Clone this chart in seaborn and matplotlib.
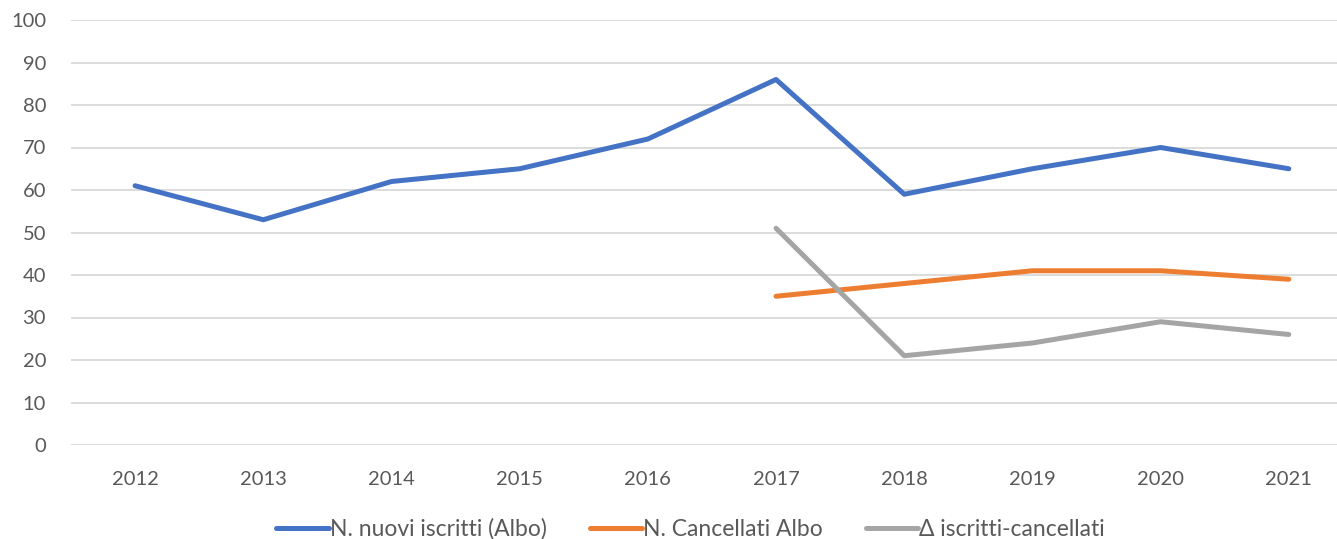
import pandas as pd
import numpy as np
import matplotlib.pyplot as plt
import seaborn as sns

years = ['2012', '2013', '2014', '2015', '2016', '2017', '2018', '2019', '2020', '2021']
nuovi = [61, 53, 62, 65, 72, 86, 59, 65, 70, 65]
cancellati = [np.nan, np.nan, np.nan, np.nan, np.nan, 35, 38, 41, 41, 39]
delta = [np.nan, np.nan, np.nan, np.nan, np.nan, 51, 21, 24, 29, 26]

labels = ['N. nuovi iscritti (Albo)', 'N. Cancellati Albo', 'Δ iscritti-cancellati']
colors = ['#4472C4', '#ED7D31', '#A5A5A5']

df = pd.DataFrame({'Anno': years, labels[0]: nuovi, labels[1]: cancellati, labels[2]: delta})
long = df.melt(id_vars='Anno', var_name='Serie', value_name='Valore').dropna()

sns.set_style('white')
plt.rcParams['font.family'] = ['Lato', 'DejaVu Sans']

fig = plt.figure(figsize=(13.37, 5.39), dpi=100)
ax = fig.add_axes([71 / 1337, (539 - 445) / 539, (1337 - 71) / 1337, (445 - 20) / 539])

for lab, col in zip(labels, colors):
    sub = long[long['Serie'] == lab]
    sns.lineplot(data=sub, x='Anno', y='Valore', ax=ax, color=col, linewidth=3.6,
                 label=lab, solid_capstyle='round', solid_joinstyle='round', sort=False)

ax.set_xlim(-0.5, 9.376)
ax.set_ylim(0, 100)
ax.set_yticks(range(0, 101, 10))
ax.grid(axis='y', color='#D9D9D9', linewidth=1.3)
ax.set_axisbelow(True)
for s in ax.spines.values():
    s.set_visible(False)
ax.tick_params(axis='both', length=0, labelsize=14.5, labelcolor='#595959')
ax.tick_params(axis='x', pad=19)
ax.tick_params(axis='y', pad=18)
ax.set_xlabel('')
ax.set_ylabel('')

leg = ax.legend(loc='lower center', bbox_to_anchor=(0.5 - 0.0105, -0.272), ncol=3, frameon=False,
                fontsize=16.5, handlelength=2.3, handletextpad=0.05, columnspacing=1.85)
for t in leg.get_texts():
    t.set_color('#595959')

fig.savefig('out.png', dpi=100)
